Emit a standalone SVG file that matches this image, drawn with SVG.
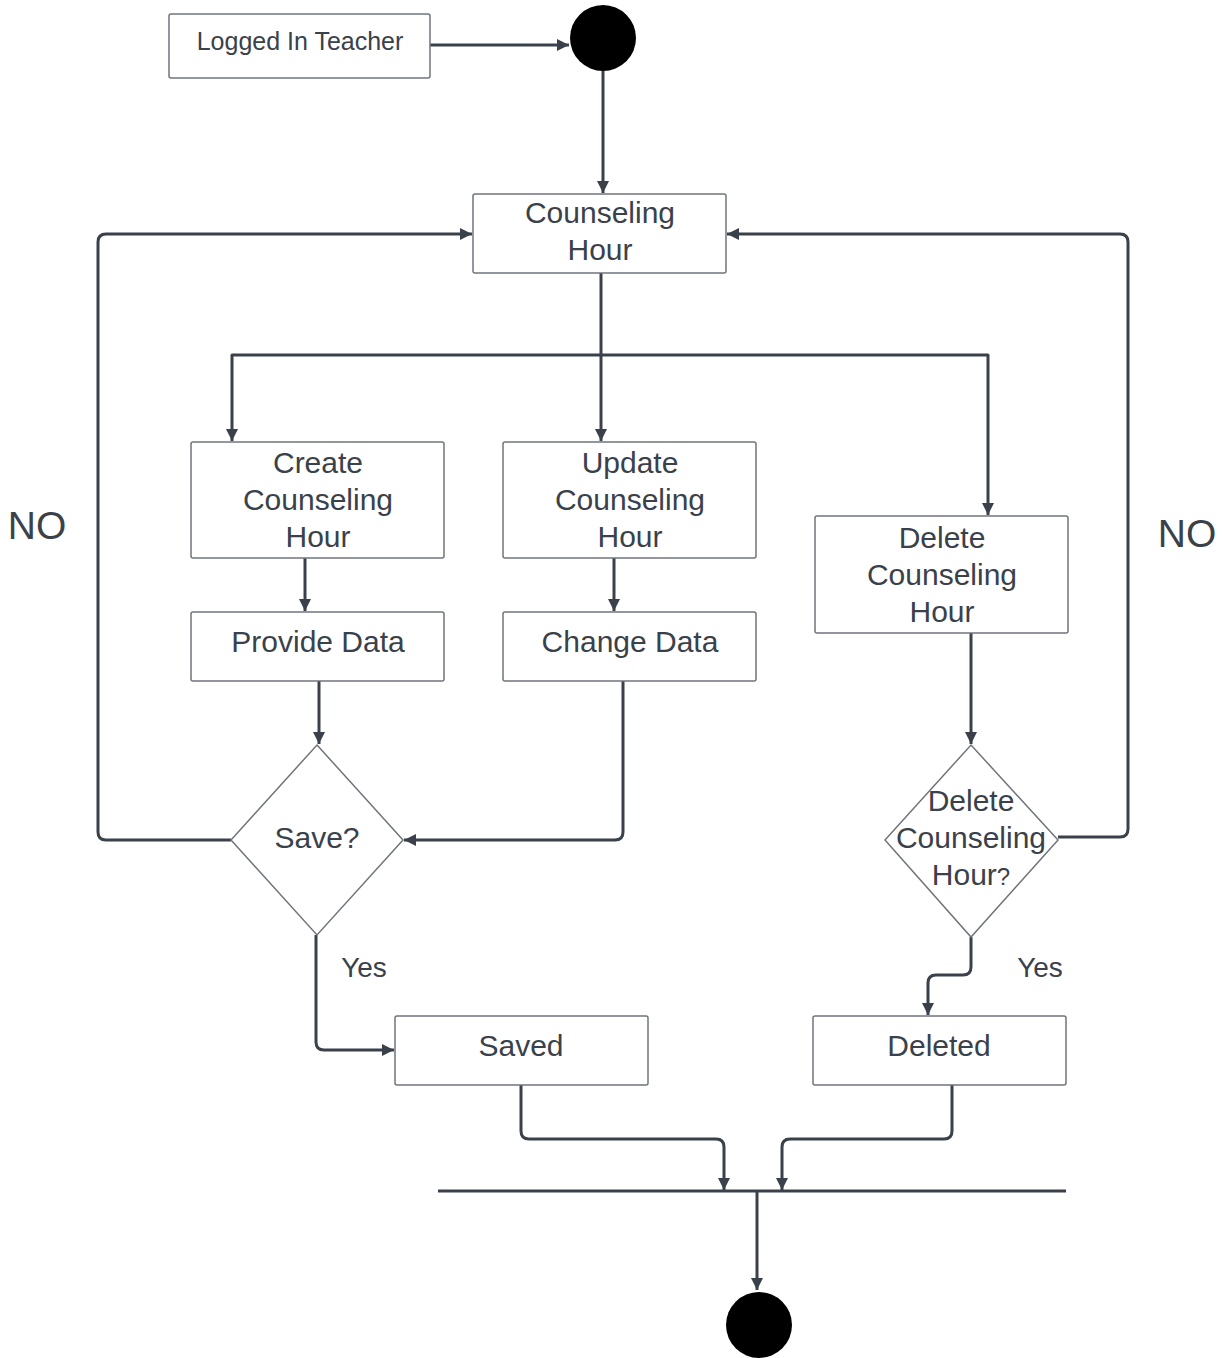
<svg xmlns="http://www.w3.org/2000/svg" width="1225" height="1358" viewBox="0 0 1225 1358">
<style>
.box{fill:#fff;stroke:#70757d;stroke-width:1.5}
.t{font-family:"Liberation Sans",Arial,sans-serif;fill:#3a414a;text-anchor:middle}
.c{fill:none;stroke:#3a414a;stroke-width:3;stroke-linejoin:round}
</style>
<defs>
<marker id="ah" viewBox="0 0 12 12" refX="12" refY="6" markerWidth="12" markerHeight="12" markerUnits="userSpaceOnUse" orient="auto">
<path d="M0,0 L12,6 L0,12 z" fill="#3a414a"/>
</marker>
</defs>
<rect width="1225" height="1358" fill="#fff"/>
<g id="connectors">
<path class="c" d="M430,45 H569" marker-end="url(#ah)"/>
<path class="c" d="M603,71 V193" marker-end="url(#ah)"/>
<path class="c" d="M601,273 V441" marker-end="url(#ah)"/>
<path class="c" d="M601,355 H232 V441" marker-end="url(#ah)"/>
<path class="c" d="M601,355 H988 V515" marker-end="url(#ah)"/>
<path class="c" d="M305,558 V611" marker-end="url(#ah)"/>
<path class="c" d="M614,558 V611" marker-end="url(#ah)"/>
<path class="c" d="M319,681 V744" marker-end="url(#ah)"/>
<path class="c" d="M623,681 V832 Q623,840 615,840 H404" marker-end="url(#ah)"/>
<path class="c" d="M231,840 H106 Q98,840 98,832 V242 Q98,234 106,234 H472" marker-end="url(#ah)"/>
<path class="c" d="M971,633 V744" marker-end="url(#ah)"/>
<path class="c" d="M1058,837 H1120 Q1128,837 1128,829 V242 Q1128,234 1120,234 H727" marker-end="url(#ah)"/>
<path class="c" d="M316,935 V1042 Q316,1050 324,1050 H394" marker-end="url(#ah)"/>
<path class="c" d="M971,937 V967 Q971,975 963,975 H936 Q928,975 928,983 V1015" marker-end="url(#ah)"/>
<path class="c" d="M521,1085 V1131 Q521,1139 529,1139 H716 Q724,1139 724,1147 V1190" marker-end="url(#ah)"/>
<path class="c" d="M952,1085 V1131 Q952,1139 944,1139 H790 Q782,1139 782,1147 V1190" marker-end="url(#ah)"/>
<path class="c" d="M757,1192 V1290" marker-end="url(#ah)"/>
</g>
<g id="logged-in-teacher"><rect class="box" x="169" y="14" width="261" height="64" rx="2"/><text class="t" x="300" y="50" font-size="25">Logged In Teacher</text></g>
<g id="start"><circle cx="603" cy="38" r="33" fill="#000"/></g>
<g id="counseling-hour"><rect class="box" x="473" y="194" width="253" height="79" rx="2"/><text class="t" font-size="30"><tspan x="600" y="223">Counseling</tspan><tspan x="600" y="260">Hour</tspan></text></g>
<g id="create"><rect class="box" x="191" y="442" width="253" height="116" rx="2"/><text class="t" font-size="30"><tspan x="318" y="473">Create</tspan><tspan x="318" y="510">Counseling</tspan><tspan x="318" y="547">Hour</tspan></text></g>
<g id="update"><rect class="box" x="503" y="442" width="253" height="116" rx="2"/><text class="t" font-size="30"><tspan x="630" y="473">Update</tspan><tspan x="630" y="510">Counseling</tspan><tspan x="630" y="547">Hour</tspan></text></g>
<g id="delete"><rect class="box" x="815" y="516" width="253" height="117" rx="2"/><text class="t" font-size="30"><tspan x="942" y="548">Delete</tspan><tspan x="942" y="585">Counseling</tspan><tspan x="942" y="622">Hour</tspan></text></g>
<g id="provide-data"><rect class="box" x="191" y="612" width="253" height="69" rx="2"/><text class="t" x="318" y="652" font-size="30">Provide Data</text></g>
<g id="change-data"><rect class="box" x="503" y="612" width="253" height="69" rx="2"/><text class="t" x="630" y="652" font-size="30">Change Data</text></g>
<g id="save-decision"><path class="box" d="M317,745 L403,840 L317,935 L231,840 Z"/><text class="t" x="317" y="848" font-size="30">Save?</text></g>
<g id="delete-decision"><path class="box" d="M971,745 L1058,840 L971,937 L885,840 Z"/><text class="t" font-size="30"><tspan x="971" y="811">Delete</tspan><tspan x="971" y="848">Counseling</tspan><tspan x="971" y="885">Hour<tspan font-size="24">?</tspan></tspan></text></g>
<g id="saved"><rect class="box" x="395" y="1016" width="253" height="69" rx="2"/><text class="t" x="521" y="1056" font-size="30">Saved</text></g>
<g id="deleted"><rect class="box" x="813" y="1016" width="253" height="69" rx="2"/><text class="t" x="939" y="1056" font-size="30">Deleted</text></g>
<g id="join-bar"><line x1="438" y1="1191" x2="1066" y2="1191" stroke="#3a414a" stroke-width="3"/></g>
<g id="end"><circle cx="759" cy="1325" r="33" fill="#000"/></g>
<g id="labels">
<text class="t" x="37" y="539" font-size="39">NO</text>
<text class="t" x="1187" y="547" font-size="39">NO</text>
<text class="t" x="364" y="977" font-size="28">Yes</text>
<text class="t" x="1040" y="977" font-size="28">Yes</text>
</g>
</svg>
